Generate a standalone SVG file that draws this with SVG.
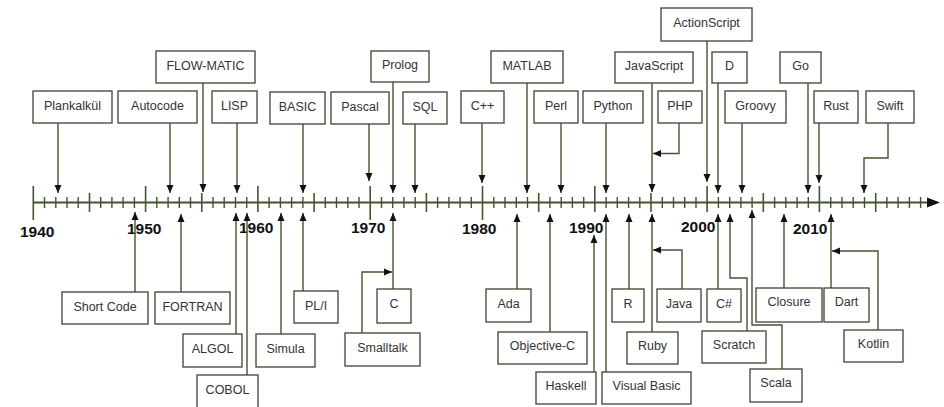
<svg xmlns="http://www.w3.org/2000/svg" width="944" height="407" viewBox="0 0 944 407">
<style>
.box{fill:#fff;stroke:#3c4232;stroke-width:1.3}
.lbl{font-family:"Liberation Sans",Arial,sans-serif;font-size:12.5px;fill:#333;text-anchor:middle}
.yr{font-family:"Liberation Sans",Arial,sans-serif;font-size:15.5px;font-weight:bold;fill:#111}
.con{fill:none;stroke:#46532f;stroke-width:1.4}
.arr{marker-end:url(#ah)}
.tk{stroke:#46532f;stroke-width:1.4}
.tk5{stroke:#46532f;stroke-width:1.6}
</style>
<defs>
<marker id="ah" markerUnits="userSpaceOnUse" markerWidth="9" markerHeight="8" refX="8" refY="4" orient="auto">
<path d="M0,0.5 L8,4 L0,7.5 z" fill="#111"/>
</marker>
</defs>
<rect width="944" height="407" fill="#fff"/>
<g id="axis">
<line x1="33" y1="202.5" x2="930" y2="202.5" stroke="#46532f" stroke-width="2"/>
<path d="M927,197.5 L940,202.5 L927,207.5 z" fill="#111"/>
<g class="tk">
<line x1="44.5" y1="197" x2="44.5" y2="208"/><line x1="55.8" y1="197" x2="55.8" y2="208"/><line x1="67" y1="197" x2="67" y2="208"/><line x1="78.2" y1="197" x2="78.2" y2="208"/>
<line x1="100.7" y1="197" x2="100.7" y2="208"/><line x1="111.9" y1="197" x2="111.9" y2="208"/><line x1="123.1" y1="197" x2="123.1" y2="208"/><line x1="134.4" y1="197" x2="134.4" y2="208"/>
<line x1="156.8" y1="197" x2="156.8" y2="208"/><line x1="168.1" y1="197" x2="168.1" y2="208"/><line x1="179.3" y1="197" x2="179.3" y2="208"/><line x1="190.5" y1="197" x2="190.5" y2="208"/>
<line x1="213" y1="197" x2="213" y2="208"/><line x1="224.2" y1="197" x2="224.2" y2="208"/><line x1="235.5" y1="197" x2="235.5" y2="208"/><line x1="246.7" y1="197" x2="246.7" y2="208"/>
<line x1="269.1" y1="197" x2="269.1" y2="208"/><line x1="280.4" y1="197" x2="280.4" y2="208"/><line x1="291.6" y1="197" x2="291.6" y2="208"/><line x1="302.9" y1="197" x2="302.9" y2="208"/>
<line x1="325.3" y1="197" x2="325.3" y2="208"/><line x1="336.5" y1="197" x2="336.5" y2="208"/><line x1="347.8" y1="197" x2="347.8" y2="208"/><line x1="359" y1="197" x2="359" y2="208"/>
<line x1="381.5" y1="197" x2="381.5" y2="208"/><line x1="392.7" y1="197" x2="392.7" y2="208"/><line x1="403.9" y1="197" x2="403.9" y2="208"/><line x1="415.2" y1="197" x2="415.2" y2="208"/>
<line x1="437.6" y1="197" x2="437.6" y2="208"/><line x1="448.9" y1="197" x2="448.9" y2="208"/><line x1="460.1" y1="197" x2="460.1" y2="208"/><line x1="471.3" y1="197" x2="471.3" y2="208"/>
<line x1="493.8" y1="197" x2="493.8" y2="208"/><line x1="505" y1="197" x2="505" y2="208"/><line x1="516.3" y1="197" x2="516.3" y2="208"/><line x1="527.5" y1="197" x2="527.5" y2="208"/>
<line x1="549.9" y1="197" x2="549.9" y2="208"/><line x1="561.2" y1="197" x2="561.2" y2="208"/><line x1="572.4" y1="197" x2="572.4" y2="208"/><line x1="583.7" y1="197" x2="583.7" y2="208"/>
<line x1="606.1" y1="197" x2="606.1" y2="208"/><line x1="617.3" y1="197" x2="617.3" y2="208"/><line x1="628.6" y1="197" x2="628.6" y2="208"/><line x1="639.8" y1="197" x2="639.8" y2="208"/>
<line x1="662.3" y1="197" x2="662.3" y2="208"/><line x1="673.5" y1="197" x2="673.5" y2="208"/><line x1="684.7" y1="197" x2="684.7" y2="208"/><line x1="696" y1="197" x2="696" y2="208"/>
<line x1="718.4" y1="197" x2="718.4" y2="208"/><line x1="729.7" y1="197" x2="729.7" y2="208"/><line x1="740.9" y1="197" x2="740.9" y2="208"/><line x1="752.1" y1="197" x2="752.1" y2="208"/>
<line x1="774.6" y1="197" x2="774.6" y2="208"/><line x1="785.8" y1="197" x2="785.8" y2="208"/><line x1="797.1" y1="197" x2="797.1" y2="208"/><line x1="808.3" y1="197" x2="808.3" y2="208"/>
<line x1="830.7" y1="197" x2="830.7" y2="208"/><line x1="842" y1="197" x2="842" y2="208"/><line x1="853.2" y1="197" x2="853.2" y2="208"/><line x1="864.5" y1="197" x2="864.5" y2="208"/>
<line x1="886.9" y1="197" x2="886.9" y2="208"/><line x1="898.1" y1="197" x2="898.1" y2="208"/><line x1="909.4" y1="197" x2="909.4" y2="208"/><line x1="920.6" y1="197" x2="920.6" y2="208"/>
</g>
<g class="tk5">
<line x1="89.5" y1="193" x2="89.5" y2="212"/><line x1="201.8" y1="193" x2="201.8" y2="212"/><line x1="314.1" y1="193" x2="314.1" y2="212"/><line x1="426.4" y1="193" x2="426.4" y2="212"/>
<line x1="538.7" y1="193" x2="538.7" y2="212"/><line x1="651" y1="193" x2="651" y2="212"/><line x1="763.3" y1="193" x2="763.3" y2="212"/><line x1="875.7" y1="193" x2="875.7" y2="212"/>
<line x1="33.3" y1="186" x2="33.3" y2="220"/><line x1="145.6" y1="186" x2="145.6" y2="212"/><line x1="257.9" y1="186" x2="257.9" y2="212"/><line x1="370.2" y1="186" x2="370.2" y2="220"/>
<line x1="482.5" y1="186" x2="482.5" y2="220"/><line x1="594.8" y1="186" x2="594.8" y2="212"/><line x1="707.1" y1="186" x2="707.1" y2="212"/><line x1="819.4" y1="186" x2="819.4" y2="212"/>
</g>
<text class="yr" x="20" y="237">1940</text>
<text class="yr" x="127" y="234">1950</text>
<text class="yr" x="239" y="233">1960</text>
<text class="yr" x="351" y="233">1970</text>
<text class="yr" x="462" y="234">1980</text>
<text class="yr" x="569" y="233">1990</text>
<text class="yr" x="681" y="232">2000</text>
<text class="yr" x="793" y="234">2010</text>
</g>
<g id="connectors" class="con">
<path class="arr" d="M58,123 V193"/>
<path class="arr" d="M170,123 V193"/>
<path class="arr" d="M203,83 V192"/>
<path class="arr" d="M237,123 V193"/>
<path class="arr" d="M303,124 V193"/>
<path class="arr" d="M369,124 V181"/>
<path class="arr" d="M393,82 V193"/>
<path class="arr" d="M415,124 V193"/>
<path class="arr" d="M482,123 V183"/>
<path class="arr" d="M527,83 V193"/>
<path class="arr" d="M561,123 V193"/>
<path class="arr" d="M606,123 V193"/>
<path class="arr" d="M652,83 V192"/>
<path class="arr" d="M679,123 V153.5 H653"/>
<path class="arr" d="M707,41 V182"/>
<path class="arr" d="M718,83 V193"/>
<path class="arr" d="M742,123 V193"/>
<path class="arr" d="M808,83 V193"/>
<path class="arr" d="M819,123 V183"/>
<path class="arr" d="M888,123 V158 H864 V193"/>
<path class="arr" d="M135,292 V212"/>
<path class="arr" d="M181,292 V214"/>
<path class="arr" d="M236,334 V213"/>
<path class="arr" d="M247,375 V213"/>
<path class="arr" d="M281,334 V213"/>
<path class="arr" d="M303,291 V213"/>
<path class="arr" d="M393,289 V213"/>
<path class="arr" d="M362,333 V272 H392"/>
<path class="arr" d="M517,289 V214"/>
<path class="arr" d="M550,332 V214"/>
<path class="arr" d="M594,372 V235"/>
<path class="arr" d="M606,372 V214"/>
<path class="arr" d="M629,289 V214"/>
<path class="arr" d="M652,332 V214"/>
<path class="arr" d="M682,289 V250 H653"/>
<path class="arr" d="M718,289 V214"/>
<path class="arr" d="M747,331 V278 H730 V214"/>
<path class="arr" d="M782,369 V325 H752 V210"/>
<path class="arr" d="M784,288 V214"/>
<path class="arr" d="M831,288 V214"/>
<path class="arr" d="M878,330 V251 H832"/>
</g>
<g id="plankalkul"><rect class="box" x="33" y="91" width="79" height="32"/><text class="lbl" x="72.5" y="110">Plankalkül</text></g>
<g id="autocode"><rect class="box" x="118" y="91" width="79" height="32"/><text class="lbl" x="157.5" y="110">Autocode</text></g>
<g id="flowmatic"><rect class="box" x="156" y="51" width="99" height="32"/><text class="lbl" x="205.5" y="70">FLOW-MATIC</text></g>
<g id="lisp"><rect class="box" x="212" y="91" width="45" height="32"/><text class="lbl" x="234.5" y="110">LISP</text></g>
<g id="basic"><rect class="box" x="270" y="92" width="55" height="32"/><text class="lbl" x="297.5" y="111">BASIC</text></g>
<g id="pascal"><rect class="box" x="331" y="92" width="58" height="32"/><text class="lbl" x="360" y="111">Pascal</text></g>
<g id="prolog"><rect class="box" x="371" y="51" width="58" height="31"/><text class="lbl" x="400" y="69">Prolog</text></g>
<g id="sql"><rect class="box" x="403" y="92" width="44" height="32"/><text class="lbl" x="425" y="111">SQL</text></g>
<g id="cpp"><rect class="box" x="461" y="91" width="43" height="32"/><text class="lbl" x="482.5" y="110">C++</text></g>
<g id="matlab"><rect class="box" x="491" y="51" width="72" height="32"/><text class="lbl" x="527" y="70">MATLAB</text></g>
<g id="perl"><rect class="box" x="534" y="91" width="44" height="32"/><text class="lbl" x="556" y="110">Perl</text></g>
<g id="python"><rect class="box" x="583" y="91" width="60" height="32"/><text class="lbl" x="613" y="110">Python</text></g>
<g id="javascript"><rect class="box" x="615" y="52" width="78" height="31"/><text class="lbl" x="654" y="70">JavaScript</text></g>
<g id="php"><rect class="box" x="658" y="91" width="44" height="32"/><text class="lbl" x="680" y="110">PHP</text></g>
<g id="actionscript"><rect class="box" x="661" y="8" width="91" height="33"/><text class="lbl" x="706.5" y="27">ActionScript</text></g>
<g id="d"><rect class="box" x="712" y="52" width="35" height="31"/><text class="lbl" x="729.5" y="70">D</text></g>
<g id="groovy"><rect class="box" x="725" y="91" width="61" height="32"/><text class="lbl" x="755.5" y="110">Groovy</text></g>
<g id="go"><rect class="box" x="780" y="52" width="41" height="31"/><text class="lbl" x="800.5" y="70">Go</text></g>
<g id="rust"><rect class="box" x="814" y="91" width="44" height="32"/><text class="lbl" x="836" y="110">Rust</text></g>
<g id="swift"><rect class="box" x="866" y="91" width="48" height="32"/><text class="lbl" x="890" y="110">Swift</text></g>
<g id="shortcode"><rect class="box" x="62" y="292" width="86" height="32"/><text class="lbl" x="105" y="311">Short Code</text></g>
<g id="fortran"><rect class="box" x="155" y="292" width="75" height="32"/><text class="lbl" x="192.5" y="311">FORTRAN</text></g>
<g id="algol"><rect class="box" x="183" y="334" width="59" height="33"/><text class="lbl" x="212.5" y="353">ALGOL</text></g>
<g id="cobol"><rect class="box" x="197" y="375" width="61" height="36"/><text class="lbl" x="227.5" y="394">COBOL</text></g>
<g id="simula"><rect class="box" x="256" y="334" width="59" height="33"/><text class="lbl" x="285.5" y="353">Simula</text></g>
<g id="pli"><rect class="box" x="294" y="291" width="44" height="32"/><text class="lbl" x="316" y="310">PL/I</text></g>
<g id="c"><rect class="box" x="377" y="289" width="34" height="34"/><text class="lbl" x="394" y="308">C</text></g>
<g id="smalltalk"><rect class="box" x="345" y="333" width="75" height="33"/><text class="lbl" x="382.5" y="352">Smalltalk</text></g>
<g id="ada"><rect class="box" x="486" y="289" width="45" height="33"/><text class="lbl" x="508.5" y="308">Ada</text></g>
<g id="objectivec"><rect class="box" x="498" y="332" width="89" height="32"/><text class="lbl" x="542.5" y="350">Objective-C</text></g>
<g id="haskell"><rect class="box" x="536" y="372" width="60" height="32"/><text class="lbl" x="566" y="390">Haskell</text></g>
<g id="visualbasic"><rect class="box" x="602" y="372" width="89" height="32"/><text class="lbl" x="646.5" y="390">Visual Basic</text></g>
<g id="r"><rect class="box" x="612" y="289" width="32" height="33"/><text class="lbl" x="628" y="308">R</text></g>
<g id="ruby"><rect class="box" x="627" y="332" width="51" height="32"/><text class="lbl" x="652.5" y="350">Ruby</text></g>
<g id="java"><rect class="box" x="657" y="289" width="44" height="33"/><text class="lbl" x="679" y="308">Java</text></g>
<g id="csharp"><rect class="box" x="707" y="289" width="34" height="33"/><text class="lbl" x="724" y="308">C#</text></g>
<g id="scratch"><rect class="box" x="702" y="331" width="64" height="32"/><text class="lbl" x="734" y="349">Scratch</text></g>
<g id="scala"><rect class="box" x="750" y="369" width="52" height="33"/><text class="lbl" x="776" y="387">Scala</text></g>
<g id="closure"><rect class="box" x="756" y="288" width="66" height="34"/><text class="lbl" x="789" y="306">Closure</text></g>
<g id="dart"><rect class="box" x="824" y="288" width="45" height="34"/><text class="lbl" x="846.5" y="306">Dart</text></g>
<g id="kotlin"><rect class="box" x="844" y="330" width="59" height="32"/><text class="lbl" x="873.5" y="348">Kotlin</text></g>
</svg>
